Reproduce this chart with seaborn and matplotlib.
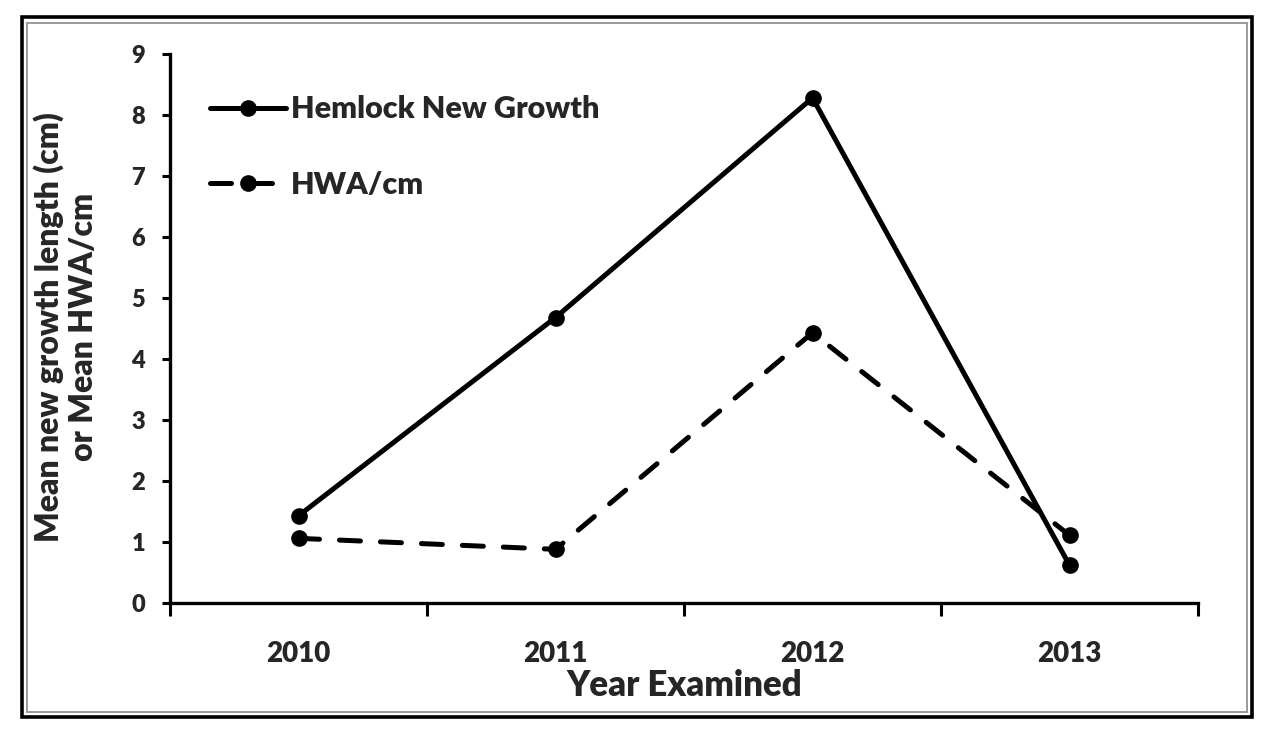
import matplotlib.pyplot as plt
import seaborn as sns
from matplotlib.patches import Rectangle

years = ["2010", "2011", "2012", "2013"]
hemlock_growth = [1.43, 4.68, 8.28, 0.62]
hwa_per_cm = [1.06, 0.88, 4.43, 1.11]
y_ticks = list(range(0, 10))

sns.set_theme(style="white")
plt.rcParams["font.family"] = ["Lato", "DejaVu Sans"]
plt.rcParams["font.weight"] = "heavy"

fig = plt.figure(figsize=(12.78, 7.40), dpi=100)
ax = fig.add_axes([170 / 1278, 1 - 603 / 740, 1028 / 1278, (603 - 54) / 740])

sns.lineplot(x=years, y=hemlock_growth, ax=ax, color="black", linewidth=3.6,
             marker="o", markersize=12, markeredgewidth=0, label="Hemlock New Growth")
sns.lineplot(x=years, y=hwa_per_cm, ax=ax, color="black", linewidth=3.6,
             linestyle=(0, (4.2, 4.0)), dash_capstyle="round",
             marker="o", markersize=12, markeredgewidth=0, label="HWA/cm")

ax.set_xlim(-0.5, 3.5)
ax.set_ylim(0, 9)
ax.set_yticks(y_ticks)
ax.set_yticklabels([str(t) for t in y_ticks], fontsize=17, fontweight="heavy")
ax.set_xticks([-0.5, 0.5, 1.5, 2.5, 3.5])
ax.set_xticklabels([])
ax.set_xticks(range(len(years)), minor=True)
ax.set_xticklabels(years, minor=True, fontsize=20, fontweight="heavy")
ax.tick_params(axis="x", which="major", direction="out", length=9, width=2.2, color="black")
ax.tick_params(axis="x", which="minor", length=0, pad=27)
ax.tick_params(axis="y", direction="out", length=6, width=2.2, color="black", pad=12)
ax.tick_params(bottom=True, left=True)

for side in ["top", "right"]:
    ax.spines[side].set_visible(False)
for side in ["left", "bottom"]:
    ax.spines[side].set_linewidth(2.4)
    ax.spines[side].set_color("black")

ax.set_xlabel("Year Examined", fontsize=25, fontweight="heavy", labelpad=2)
ax.set_ylabel("Mean new growth length (cm)\nor Mean HWA/cm", fontsize=23,
              fontweight="heavy", linespacing=1.2)
ax.yaxis.set_label_coords(-0.07, 0.503)

leg = ax.legend(loc="upper left", bbox_to_anchor=(0.012, 0.975), frameon=False,
                fontsize=22, handlelength=2.5, labelspacing=1.55, handletextpad=0.15)
for text in leg.get_texts():
    text.set_fontweight("heavy")

fig.patches.append(Rectangle((22 / 1278, 1 - 717 / 740), 1230 / 1278, 700 / 740,
                             transform=fig.transFigure, fill=False,
                             edgecolor="black", linewidth=2.6))
fig.patches.append(Rectangle((27.5 / 1278, 1 - 711.5 / 740), 1219 / 1278, 689 / 740,
                             transform=fig.transFigure, fill=False,
                             edgecolor="#9a9a9a", linewidth=1.4))

fig.savefig("out.png", dpi=100)
